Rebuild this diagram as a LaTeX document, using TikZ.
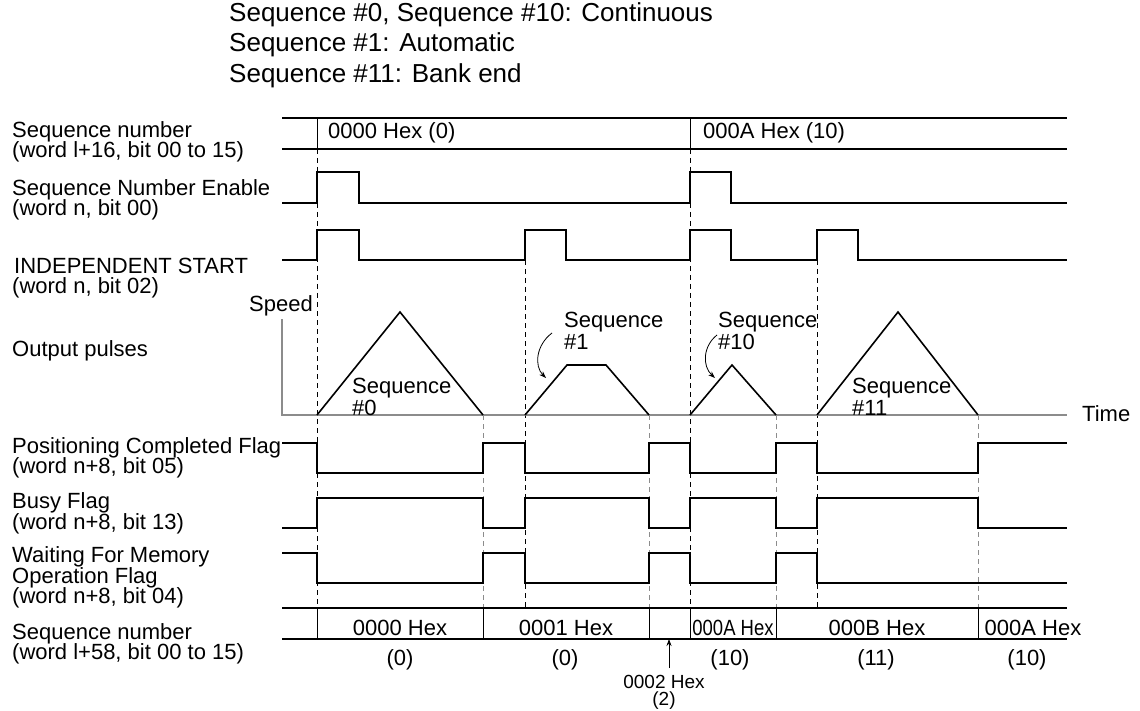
\documentclass[tikz,border=0pt]{standalone}
\usepackage{fontspec}
\setmainfont{Liberation Sans}
\usetikzlibrary{arrows.meta}
\begin{document}
\begin{tikzpicture}[x=1pt,y=-1pt,
  sig/.style={line width=1.6pt, line join=miter},
  sepline/.style={line width=1pt},
  guide/.style={line width=0.9pt, dash pattern=on 5pt off 4pt},
  guidelight/.style={guide, draw=black!45},
  axisline/.style={line width=1.4pt, draw=black!45},
  lbl/.style={anchor=base west, inner sep=0pt, font=\fontsize{22}{22}\selectfont},
  ttl/.style={anchor=base west, inner sep=0pt, font=\fontsize{26}{30}\selectfont},
  val/.style={anchor=base, inner sep=0pt, font=\fontsize{22}{22}\selectfont},
  small/.style={anchor=base, inner sep=0pt, font=\fontsize{19}{19}\selectfont},
  callout/.style={line width=0.8pt, -{Stealth[length=7pt,width=5pt]}}
]
\useasboundingbox (0,0) rectangle (1140,711);

% title
\node[ttl] (t1) at (229,22) {Sequence \#0, Sequence \#10: Continuous};
\node[ttl] (t2) at (229,52) {Sequence \#1: Automatic};
\node[ttl] (t3) at (229,83) {Sequence \#11: Bank end};

% left labels
\node[lbl] (l1a) at (12,138) {Sequence number};
\node[lbl] (l1b) at (12,158) {(word l+16, bit 00 to 15)};
\node[lbl] (l2a) at (12,196) {Sequence Number Enable};
\node[lbl] (l2b) at (12,216) {(word n, bit 00)};
\node[lbl] (l3a) at (14,273) {INDEPENDENT START};
\node[lbl] (l3b) at (12,294) {(word n, bit 02)};
\node[lbl] (l4a) at (12,356) {Output pulses};
\node[lbl] (l5a) at (12,453) {Positioning Completed Flag};
\node[lbl] (l5b) at (12,473) {(word n+8, bit 05)};
\node[lbl] (l6a) at (12,508) {Busy Flag};
\node[lbl] (l6b) at (12,529) {(word n+8, bit 13)};
\node[lbl] (l7a) at (12,562) {Waiting For Memory};
\node[lbl] (l7b) at (12,583) {Operation Flag};
\node[lbl] (l7c) at (12,603) {(word n+8, bit 04)};
\node[lbl] (l8a) at (12,639) {Sequence number};
\node[lbl] (l8b) at (12,659) {(word l+58, bit 00 to 15)};

% guide lines
\draw[guide] (317,149) -- (317,608);
\draw[guide] (690,149) -- (690,608);
\draw[guide] (525,260) -- (525,608);
\draw[guide] (817,260) -- (817,608);
\draw[guidelight] (483,415) -- (483,608);
\draw[guidelight] (649,415) -- (649,608);
\draw[guidelight] (776,415) -- (776,608);
\draw[guidelight] (978,415) -- (978,608);

% top sequence number row
\draw[sig] (282,118) -- (1067,118);
\draw[sig] (282,149) -- (1067,149);
\draw[sepline] (317,118) -- (317,149);
\draw[sepline] (690,118) -- (690,149);
\node[lbl] (v1) at (328,139) {0000 Hex (0)};
\node[lbl] (v2) at (703,139) {000A Hex (10)};

% sequence number enable
\draw[sig] (282,203) -- (317,203) -- (317,172) -- (359,172) -- (359,203) -- (690,203) -- (690,172) -- (731,172) -- (731,203) -- (1067,203);

% independent start
\draw[sig] (282,260) -- (317,260) -- (317,230) -- (359,230) -- (359,260) -- (525,260) -- (525,230) -- (566,230) -- (566,260) -- (690,260) -- (690,230) -- (731,230) -- (731,260) -- (817,260) -- (817,230) -- (858,230) -- (858,260) -- (1067,260);

% output pulses
\draw[axisline] (282,319) -- (282,415) -- (1067,415);
\node[lbl, anchor=base east] (speed) at (313,311) {Speed};
\node[lbl] (time) at (1082,421) {Time};
\draw[sig] (317,415) -- (400,312) -- (483,415);
\draw[sig] (525,415) -- (567,365) -- (606,365) -- (649,415);
\draw[sig] (690,415) -- (732,365) -- (776,415);
\draw[sig] (817,415) -- (898,312) -- (978,415);
\node[lbl] (s0a) at (352,393) {Sequence};
\node[lbl] (s0b) at (352,415) {\#0};
\node[lbl] (s1a) at (564,327) {Sequence};
\node[lbl] (s1b) at (564,349) {\#1};
\node[lbl] (s10a) at (718,327) {Sequence};
\node[lbl] (s10b) at (718,349) {\#10};
\node[lbl] (s11a) at (852,393) {Sequence};
\node[lbl] (s11b) at (852,415) {\#11};
\coordinate (c1s) at (552,333);
\coordinate (c1e) at (546,378);
\coordinate (c10s) at (717,335);
\coordinate (c10e) at (715,378);
\draw[callout] (c1s) .. controls (536,345) and (534,366) .. (c1e);
\draw[callout] (c10s) .. controls (703,346) and (702,366) .. (c10e);

% positioning completed flag
\draw[sig] (282,443) -- (317,443) -- (317,473) -- (483,473) -- (483,443) -- (525,443) -- (525,473) -- (649,473) -- (649,443) -- (690,443) -- (690,473) -- (776,473) -- (776,443) -- (817,443) -- (817,473) -- (978,473) -- (978,443) -- (1067,443);

% busy flag
\draw[sig] (282,528) -- (317,528) -- (317,498) -- (483,498) -- (483,528) -- (525,528) -- (525,498) -- (649,498) -- (649,528) -- (690,528) -- (690,498) -- (776,498) -- (776,528) -- (817,528) -- (817,498) -- (978,498) -- (978,528) -- (1067,528);

% waiting for memory operation flag
\draw[sig] (282,553) -- (317,553) -- (317,583) -- (483,583) -- (483,553) -- (525,553) -- (525,583) -- (649,583) -- (649,553) -- (690,553) -- (690,583) -- (776,583) -- (776,553) -- (817,553) -- (817,583) -- (1067,583);

% bottom sequence number row
\draw[sig] (282,608) -- (1067,608);
\draw[sig] (282,639) -- (1067,639);
\foreach \xx in {317,483,649,690,776,978} {\draw[sepline] (\xx,608) -- (\xx,639);}
\node[val] (b1) at (400,635) {0000 Hex};
\node[val] (b2) at (566,635) {0001 Hex};
\node[val] (b3) at (733,635) {\scalebox{0.84}[1]{000A Hex}};
\node[val] (b4) at (877,635) {000B Hex};
\node[val] (b5) at (1033,635) {000A Hex};
\node[val] (d1) at (400,665) {(0)};
\node[val] (d2) at (565,665) {(0)};
\node[val] (d3) at (730,665) {(10)};
\node[val] (d4) at (876,665) {(11)};
\node[val] (d5) at (1027,665) {(10)};
\coordinate (ptip) at (669,639);
\coordinate (ptail) at (669,668);
\draw[callout] (ptail) -- (ptip);
\node[small] (p1) at (664,688) {0002 Hex};
\node[small] (p2) at (664,705) {(2)};
\end{tikzpicture}
\end{document}
